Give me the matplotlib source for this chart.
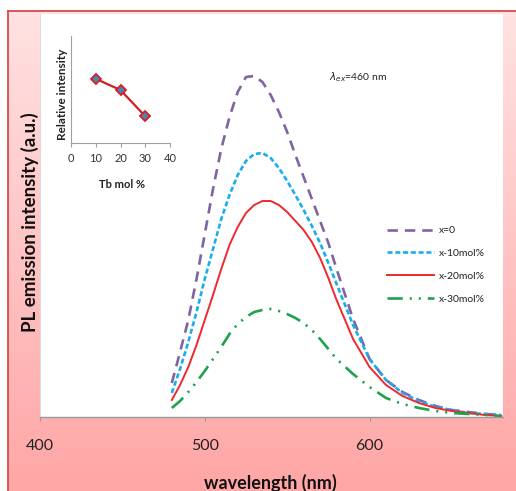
import numpy as np
import matplotlib
matplotlib.use("Agg")
import matplotlib.pyplot as plt
from matplotlib.lines import Line2D

plt.rcParams['font.family'] = ['Lato', 'DejaVu Sans']
plt.rcParams['lines.scale_dashes'] = False

# ---------------- data ----------------
wavelength = [480, 485, 490, 495, 500, 505, 510, 515, 520, 525, 530, 535, 540, 545, 550,
              555, 560, 565, 570, 575, 580, 590, 600, 610, 620, 630, 640, 650, 660, 670, 680]
x0 = [34, 65, 97, 138, 183, 228, 268, 300, 325, 340, 341, 335, 322, 305, 285,
      262, 240, 218, 196, 174, 148, 98, 58, 37, 25, 17, 11, 7, 5, 3, 2]
x10 = [24, 48, 75, 105, 138, 168, 198, 222, 242, 256, 263, 264, 259, 249, 236,
       222, 207, 191, 174, 154, 133, 92, 58, 37, 24, 16, 10, 7, 4, 3, 2]
x20 = [17, 32, 50, 72, 97, 122, 148, 172, 190, 204, 212, 216, 216, 212, 205,
       196, 187, 175, 159, 139, 117, 78, 50, 32, 21, 14, 9, 6, 4, 2, 1]
x30 = [9, 16, 25, 35, 46, 58, 70, 83, 93, 100, 105, 107, 108, 106, 103,
       99, 94, 87, 78, 68, 58, 43, 30, 19, 13, 9, 6, 4, 3, 2, 1]
series_labels = ["x=0", "x-10mol%", "x-20mol%", "x-30mol%"]

tb_mol = [10, 20, 30]
rel_int = [0.60, 0.495, 0.25]

x_ticks = [400, 500, 600]
inset_ticks = [0, 10, 20, 30, 40]

# ---------------- figure ----------------
W, H = 516, 491
fig = plt.figure(figsize=(W / 100, H / 100), dpi=100)
fig.patch.set_facecolor('white')

def fx(px):
    return px / W

def fy(py):
    return 1 - py / H

# pink gradient background
bg = fig.add_axes([fx(8), 0, 1 - fx(8), fy(10)], zorder=-10)
top = np.array([255, 226, 226]) / 255
bot = np.array([255, 166, 166]) / 255
t = np.linspace(0, 1, 256)[:, None]
grad = (top[None, :] * (1 - t) + bot[None, :] * t)[:, None, :]
bg.imshow(grad, aspect='auto', extent=[0, 1, 0, 1])
bg.set_axis_off()

# border lines
fig.add_artist(Line2D([fx(8), 1], [fy(10.5), fy(10.5)], color='#d84a4a', lw=1.3))
fig.add_artist(Line2D([fx(8), fx(8)], [fy(10.5), 0], color='#d84a4a', lw=1.3))

# main axes
ax = fig.add_axes([fx(40), fy(417), fx(503) - fx(40), fy(14) - fy(417)], zorder=1)
ax.set_facecolor('white')
ax.plot(wavelength, x0, color='#8064a2', lw=1.9, dashes=(7.5, 5.0), label=series_labels[0])
ax.plot(wavelength, x10, color='#17aef0', lw=1.9, dashes=(3.6, 2.0), label=series_labels[1])
ax.plot(wavelength, x20, color='#f0282d', lw=1.4, label=series_labels[2])
ax.plot(wavelength, x30, color='#1fa34a', lw=1.9, dashes=(11, 5, 1.5, 5, 1.5, 5), label=series_labels[3])

ax.set_xlim(400, 681)
ax.set_ylim(0, 403)
ax.set_xticks(x_ticks)
ax.set_yticks([])
for s in ['top', 'right']:
    ax.spines[s].set_visible(False)
ax.spines['left'].set_color('#dddddd')
ax.spines['bottom'].set_color('#9a9a9a')
ax.spines['bottom'].set_linewidth(1.0)
ax.tick_params(axis='x', direction='out', length=3, color='#9a9a9a',
               labelsize=11.5, labelcolor='#222222', pad=13)

fig.text(fx(270), fy(474), "wavelength (nm)", fontsize=13, fontweight='bold',
         ha='center', va='top', color='#111111')
fig.text(fx(30), fy(222), "PL emission intensity (a.u.)", fontsize=13.5, fontweight='bold',
         rotation=90, ha='center', va='center', color='#111111')

fig.text(fx(329), fy(77), r"$\lambda_{ex}$=460 nm", fontsize=7.5, ha='left', va='center',
         color='#222222')

leg = ax.legend(loc='upper left', bbox_to_anchor=(fx(387), fy(226)), bbox_transform=fig.transFigure,
                frameon=False, fontsize=7.5, handlelength=4.5, handletextpad=0.45,
                labelspacing=1.3, borderpad=0, borderaxespad=0)
for txt in leg.get_texts():
    txt.set_color('#222222')

# inset
ins = fig.add_axes([fx(71), fy(143), fx(170) - fx(71), fy(36) - fy(143)], zorder=2)
ins.patch.set_alpha(0)
ins.plot(tb_mol, rel_int, color='#cc2222', lw=1.6, marker='D', ms=5.5,
         mfc='#4f81bd', mec='#d42020', mew=1.3)
ins.set_xlim(0, 40)
ins.set_ylim(0, 1)
ins.set_xticks(inset_ticks)
ins.set_yticks([])
for s in ['top', 'right']:
    ins.spines[s].set_visible(False)
ins.spines['left'].set_color('#a0a0a0')
ins.spines['bottom'].set_color('#a0a0a0')
ins.tick_params(axis='x', direction='out', length=3, color='#a0a0a0', labelsize=8,
                labelcolor='#333333', pad=4)
fig.text(fx(122), fy(184), "Tb mol %", fontsize=8, fontweight='bold', ha='center', va='center',
         color='#222222')
fig.text(fx(62), fy(94), "Relative intensity", fontsize=8.5, fontweight='bold', rotation=90,
         ha='center', va='center', color='#222222')

fig.savefig("out.png", dpi=100)
